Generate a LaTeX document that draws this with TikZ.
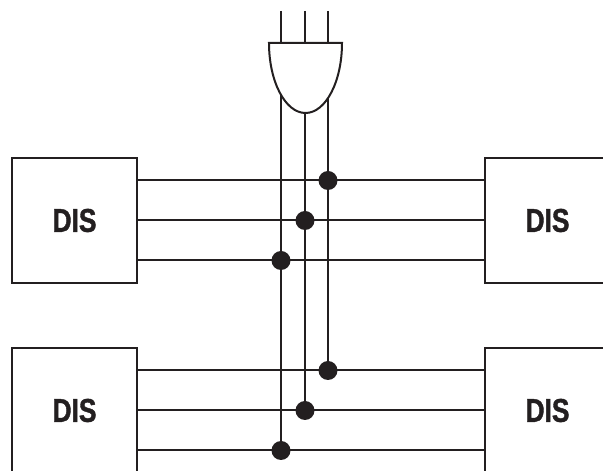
\documentclass[tikz,border=0pt]{standalone}
\usepackage{fontspec}
\usepackage{tikz}
\usetikzlibrary{positioning}
\newfontfamily\disfont[FakeStretch=0.8, FakeBold=1.2]{Liberation Sans Bold}
\definecolor{wireblack}{RGB}{35,31,32}
\tikzstyle{disbox} = [rectangle, minimum width=125pt, minimum height=125pt, inner sep=0pt, draw=wireblack, line width=2pt, text=wireblack, font=\disfont\fontsize{33}{36}\selectfont]
\tikzstyle{wire} = [line width=2pt, color=wireblack]
\tikzstyle{joint} = [circle, fill=wireblack, inner sep=0pt, minimum size=19pt]

\begin{document}
\begin{tikzpicture}[x=1pt, y=1pt, node distance=473pt]
\clip (0,0) rectangle (603,471);
% Boxes
\node (disTL) [disbox] at (74.5,250.5) {DIS};
\node (disTR) [disbox, right of=disTL] {DIS};
\node (disBL) [disbox, below of=disTL, node distance=190pt] {DIS};
\node (disBR) [disbox, right of=disBL] {DIS};

% Joints
\node (jA1) [joint] at (328,290.5) {};
\node (jB1) [joint] at (305,250.5) {};
\node (jC1) [joint] at (281,210.5) {};
\node (jA2) [joint] at (328,100.5) {};
\node (jB2) [joint] at (305,60.5) {};
\node (jC2) [joint] at (281,20.5) {};

\coordinate (gate) at (305.5,428);
\coordinate (inA) at (328,460);
\coordinate (inB) at (305,460);
\coordinate (inC) at (281,460);

% Bus lines
\foreach \j in {jA1,jB1,jC1}
  \draw[wire] (disTL.east |- \j) -- (disTR.west |- \j);
\foreach \j in {jA2,jB2,jC2}
  \draw[wire] (disBL.east |- \j) -- (disBR.west |- \j);

\draw[wire] (jA1 |- gate) -- (jA1) -- (jA2);
\draw[wire] (jB1 |- gate) -- (jB1) -- (jB2);
\draw[wire] (jC1 |- gate) -- (jC1) -- (jC2);

% Gate
\filldraw[wire, fill=white] (gate) ++(-36.5,0) -- ++(73,0)
  arc[start angle=0, end angle=-180, x radius=36.5, y radius=70] -- cycle;
\draw[wire] (inA) -- (inA |- gate);
\draw[wire] (inB) -- (inB |- gate);
\draw[wire] (inC) -- (inC |- gate);
\end{tikzpicture}
\end{document}
